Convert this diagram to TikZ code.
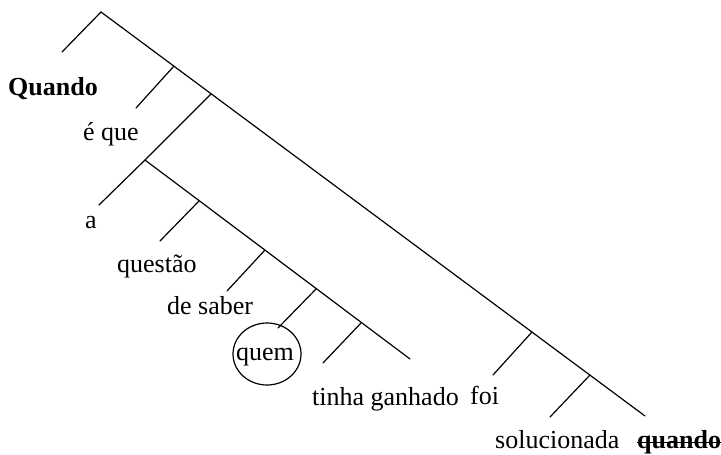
\documentclass[tikz,border=0pt]{standalone}
\usepackage{fontspec}
\setmainfont{Liberation Serif}
\begin{document}
\begin{tikzpicture}[x=1pt,y=-1pt,
  edge/.style={line width=1.2pt, line cap=round},
  word/.style={inner sep=0pt, anchor=base west, font=\fontsize{26}{31}\selectfont},
  boldword/.style={word, font=\fontsize{26}{31}\selectfont\bfseries}]
\useasboundingbox (0,0) rectangle (721,455);

% spine of the tree and its attachment points
\coordinate (A)  at (101,12);
\coordinate (L0) at (62,52);
\coordinate (M)  at (645,416);
\coordinate (J1) at (174,66);
\coordinate (J2) at (211,94);
\coordinate (J3) at (532,332);
\coordinate (J4) at (590,375);
\coordinate (B1) at (136,108);
\coordinate (S)  at (145,160);
\coordinate (Ba) at (99,205);
\coordinate (B3) at (493,375);
\coordinate (B4) at (550,417);

% embedded subtree
\coordinate (E)  at (410,359);
\coordinate (K1) at (199,201);
\coordinate (K2) at (265,250);
\coordinate (K3) at (316,289);
\coordinate (K4) at (361,323);
\coordinate (C1) at (160,241);
\coordinate (C2) at (227,291);
\coordinate (C3) at (278,328);
\coordinate (C4) at (323,363);

\draw[edge] (L0) -- (A) -- (M);
\draw[edge] (J1) -- (B1);
\draw[edge] (J2) -- (S) -- (Ba);
\draw[edge] (J3) -- (B3);
\draw[edge] (J4) -- (B4);
\draw[edge] (S) -- (E);
\draw[edge] (K1) -- (C1);
\draw[edge] (K2) -- (C2);
\draw[edge] (K3) -- (C3);
\draw[edge] (K4) -- (C4);

% words
\node[boldword] (quando1) at (8,95) {Quando};
\node[word] (eque) at (83,140) {é que};
\node[word] (a) at (85,228) {a};
\node[word] (questao) at (117,272) {questão};
\node[word] (desaber) at (167,314) {de saber};
\node[word] (quem) at (236,360) {quem};
\draw[line width=1.2pt] (267,354) ellipse [x radius=34, y radius=31];
\node[word] (tinha) at (312,405) {tinha ganhado};
\node[word] (foi) at (470,404) {foi};
\node[word] (sol) at (495,448) {solucionada};
\node[boldword] (quando2) at (637,448) {quando};
\draw[line width=1.6pt] ([yshift=5.5pt]quando2.base west) -- ([yshift=5.5pt]quando2.base east);
\end{tikzpicture}
\end{document}
